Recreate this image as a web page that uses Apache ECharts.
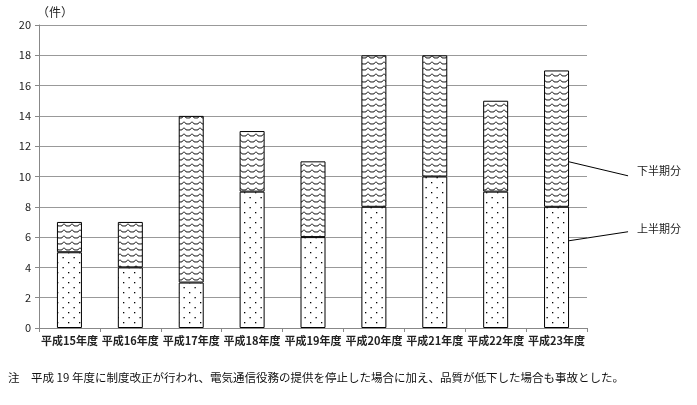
<!DOCTYPE html>
<html>
<head>
<meta charset="utf-8">
<script src="https://cdn.jsdelivr.net/npm/echarts@6/dist/echarts.min.js"></script>
<style>
  html, body { margin: 0; padding: 0; background: #fff; }
  #chart { width: 697px; height: 405px; }
</style>
</head>
<body>
<div id="chart"></div>
<script>
var years = ['平成15年度', '平成16年度', '平成17年度', '平成18年度', '平成19年度',
             '平成20年度', '平成21年度', '平成22年度', '平成23年度'];
var firstHalf = [5, 4, 3, 9, 6, 8, 10, 9, 8];     // 上半期分
var secondHalf = [2, 3, 11, 4, 5, 10, 8, 6, 9];   // 下半期分
var yTicks = [0, 2, 4, 6, 8, 10, 12, 14, 16, 18, 20];

var font = 'Noto Sans CJK JP';

// dotted fill
function dotPattern() {
    var c = document.createElement('canvas');
    c.width = 11; c.height = 10;
    var ctx = c.getContext('2d');
    ctx.fillStyle = '#fff';
    ctx.fillRect(0, 0, 11, 10);
    ctx.fillStyle = '#000';
    ctx.fillRect(2, 2, 1.3, 1.3);
    ctx.fillRect(7.5, 7, 1.3, 1.3);
    return c;
}
// wavy fill
function wavePattern() {
    var c = document.createElement('canvas');
    c.width = 8; c.height = 6;
    var ctx = c.getContext('2d');
    ctx.fillStyle = '#fff';
    ctx.fillRect(0, 0, 8, 6);
    ctx.strokeStyle = '#000';
    ctx.lineWidth = 0.9;
    ctx.beginPath();
    ctx.moveTo(0, 1.5);
    ctx.quadraticCurveTo(2, 5, 4, 4);
    ctx.quadraticCurveTo(6, 5, 8, 1.5);
    ctx.stroke();
    return c;
}

var chart = echarts.init(document.getElementById('chart'));
chart.setOption({
    animation: false,
    grid: { left: 39, right: 110, top: 25, bottom: 77 },
    xAxis: {
        type: 'category',
        data: years,
        axisLine: { lineStyle: { color: '#888' } },
        axisTick: { show: true, length: 4, lineStyle: { color: '#888' } },
        axisLabel: { color: '#222', fontSize: 11, fontFamily: font, fontWeight: 'bold', margin: 7, interval: 0 }
    },
    yAxis: {
        type: 'value',
        min: 0, max: 20, interval: 2,
        axisLine: { show: true, lineStyle: { color: '#888' } },
        axisTick: { show: true, length: 4, lineStyle: { color: '#888' } },
        axisLabel: {
            color: '#222', fontSize: 11, fontFamily: font, margin: 8,
            formatter: function (v) { return yTicks.indexOf(v) >= 0 ? String(v) : ''; }
        },
        splitLine: { lineStyle: { color: '#999', width: 1 } }
    },
    series: [
        {
            name: '上半期分', type: 'bar', stack: 'total', data: firstHalf,
            barWidth: 25,
            itemStyle: { color: { image: dotPattern(), repeat: 'repeat' }, borderColor: '#000', borderWidth: 1 }
        },
        {
            name: '下半期分', type: 'bar', stack: 'total', data: secondHalf,
            barWidth: 25,
            itemStyle: { color: { image: wavePattern(), repeat: 'repeat' }, borderColor: '#000', borderWidth: 1 }
        }
    ]
});

// leader lines and labels, placed from the last bar
var last = years.length - 1;
var topPt = chart.convertToPixel({ seriesIndex: 0 }, [last, firstHalf[last] + secondHalf[last] * 0.33]);
var botPt = chart.convertToPixel({ seriesIndex: 0 }, [last, firstHalf[last] * 0.72]);
var edge = topPt[0] + 12.5;
chart.setOption({
    graphic: [
        { id: 'unit', type: 'text', left: 37, top: 6,
          style: { text: '（件）', fontSize: 12, fontFamily: font, fontWeight: 'normal', fill: '#222' } },
        { id: 'note', type: 'text', left: 8, top: 372,
          style: { text: '注　平成 19 年度に制度改正が行われ、電気通信役務の提供を停止した場合に加え、品質が低下した場合も事故とした。',
                   fontSize: 11.5, fontFamily: font, fontWeight: 'normal', fill: '#111' } },
        { id: 'l1', type: 'line', z: 100, shape: { x1: edge, y1: topPt[1], x2: edge + 59, y2: topPt[1] + 14 },
          style: { stroke: '#000', lineWidth: 1 } },
        { id: 'l2', type: 'line', z: 100, shape: { x1: edge, y1: botPt[1], x2: edge + 59, y2: botPt[1] - 9 },
          style: { stroke: '#000', lineWidth: 1 } },
        { id: 't1', type: 'text', left: 637, top: topPt[1] + 4,
          style: { text: '下半期分', fontSize: 11, fontFamily: font, fill: '#222' } },
        { id: 't2', type: 'text', left: 637, top: botPt[1] - 17,
          style: { text: '上半期分', fontSize: 11, fontFamily: font, fill: '#222' } }
    ]
});
</script>
</body>
</html>
